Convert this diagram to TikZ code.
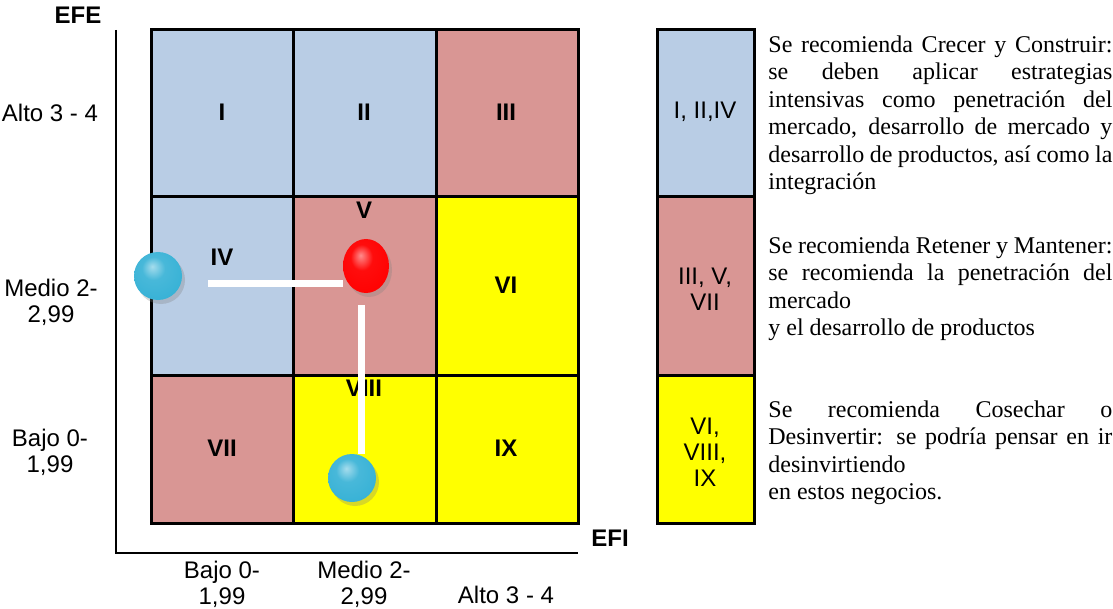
\documentclass[tikz,border=0pt]{standalone}
\usepackage{fontspec}
\setmainfont{Liberation Serif}
\setsansfont{Liberation Sans}
\usetikzlibrary{shapes.geometric,shadows}
\definecolor{celeste}{HTML}{B9CDE5}
\definecolor{rosa}{HTML}{D99694}
\definecolor{amarillo}{HTML}{FFFF00}
\definecolor{bola}{HTML}{38B2D6}
\definecolor{roja}{HTML}{FF0000}
\pgfdeclareradialshading{bolaazul}{\pgfpoint{-6bp}{10bp}}{color(0bp)=(bola!45!white); color(12bp)=(bola!92!white); color(30bp)=(bola); color(44bp)=(bola!78!black); color(58bp)=(bola!55!black)}
\pgfdeclareradialshading{bolaroja}{\pgfpoint{-6bp}{10bp}}{color(0bp)=(roja!45!white); color(12bp)=(roja!95!white); color(34bp)=(roja); color(46bp)=(roja!82!black); color(58bp)=(roja!60!black)}
\newcommand\ajuste{\tolerance=10000\relax\hyphenpenalty=10000\relax}
\begin{document}
\begin{tikzpicture}[x=0.5pt, y=-0.5pt,
	celda/.style = {draw, line width=1.5pt},
	num/.style = {font=\sffamily\bfseries\fontsize{12}{13.5}\selectfont},
	eje/.style = {font=\sffamily\fontsize{12}{13}\selectfont, align=center},
	nota/.style = {font=\rmfamily\fontsize{12}{13.75}\selectfont\ajuste, text width=172pt, align=justify, inner sep=0pt, anchor=north west},
	bolita/.style = {circle, shading=bolaazul, minimum size=24pt, inner sep=0pt, drop shadow={opacity=0.3, shadow xshift=1.5pt, shadow yshift=-2pt}},
	link/.style = {white, line width=3.5pt}]
	\useasboundingbox (0,0) rectangle (1113,609);
	\filldraw[celda, fill=celeste] (151,30) rectangle (293,197);
	\filldraw[celda, fill=celeste] (293,30) rectangle (436,197);
	\filldraw[celda, fill=rosa] (436,30) rectangle (578,197);
	\filldraw[celda, fill=celeste] (151,197) rectangle (293,375);
	\filldraw[celda, fill=rosa] (293,197) rectangle (436,375);
	\filldraw[celda, fill=amarillo] (436,197) rectangle (578,375);
	\filldraw[celda, fill=rosa] (151,375) rectangle (293,523);
	\filldraw[celda, fill=amarillo] (293,375) rectangle (436,523);
	\filldraw[celda, fill=amarillo] (436,375) rectangle (578,523);
	\filldraw[celda, fill=celeste] (657,30) rectangle (754,197);
	\filldraw[celda, fill=rosa] (657,197) rectangle (754,375);
	\filldraw[celda, fill=amarillo] (657,375) rectangle (754,523);
	\draw[line width=1.3pt] (116,30) -- (116,553) -- (578,553);
	\node[num] (efe) at (78,15) {EFE};
	\node[num] (efi) at (610,538) {EFI};
	\node[num] (c1) at (222,112) {I};
	\node[num] (c2) at (364,112) {II};
	\node[num] (c3) at (506,112) {III};
	\node[num] (c4) at (222,257) {IV};
	\node[num] (c5) at (364,210) {V};
	\node[num] (c6) at (506,285) {VI};
	\node[num] (c7) at (222,448) {VII};
	\node[num] (c8) at (364,388) {VIII};
	\node[num] (c9) at (506,448) {IX};
	\node[eje] (alto) at (50,113) {Alto 3 - 4};
	\node[eje] (medio) at (51,302) {Medio 2-\\2,99};
	\node[eje] (bajo) at (50,452) {Bajo 0-\\1,99};
	\node[eje] (bajox) at (222,584) {Bajo 0-\\1,99};
	\node[eje] (mediox) at (364,584) {Medio 2-\\2,99};
	\node[eje] (altox) at (506,595) {Alto 3 - 4};
	\node[eje] (g1) at (705,112) {I, II,IV};
	\node[eje] (g2) at (705,289) {III, V,\\VII};
	\node[eje] (g3) at (705,452) {VI,\\VIII,\\IX};
	\node[nota] (t1) at (768,35) {Se recomienda Crecer y Construir:\linebreak se deben aplicar estrategias\linebreak intensivas como penetración del\linebreak mercado, desarrollo de mercado y\linebreak desarrollo de productos, así como la\linebreak integración};
	\node[nota] (t2) at (768,236) {Se recomienda Retener y Mantener:\linebreak se recomienda la penetración del\linebreak mercado\\ y el desarrollo de productos};
	\node[nota] (t3) at (768,400) {Se recomienda Cosechar o\linebreak Desinvertir: se podría pensar en ir\linebreak desinvirtiendo\\ en estos negocios.};
	\node[bolita] (b1) at (158,276) {};
	\node[bolita, ellipse, shading=bolaroja, minimum width=23pt, minimum height=27pt] (r) at (366,266) {};
	\node[bolita] (b2) at (352,478) {};
	\coordinate (h) at (208,283);
	\draw[link] (h) -- (h -| r.west);
	\draw[link, shorten <=6pt] ([xshift=-2.5pt]r.south) -- ([xshift=-2.5pt]r.south |- b2.north);
\end{tikzpicture}
\end{document}
